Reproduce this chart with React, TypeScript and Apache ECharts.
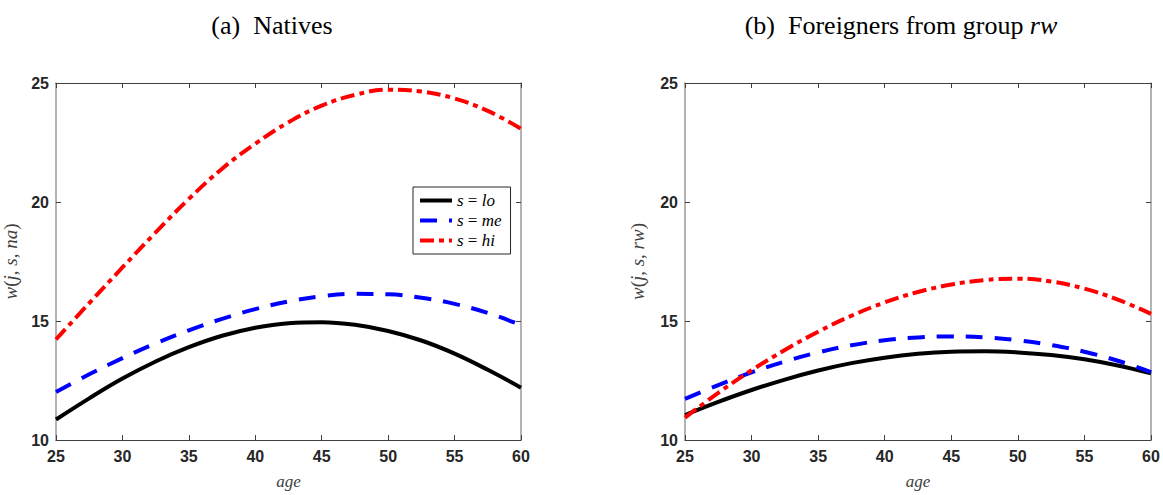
import { useEffect, useRef } from 'react';
import * as echarts from 'echarts';

// ages on the x axis
const ages = [25, 27.5, 30, 32.5, 35, 37.5, 40, 42.5, 45, 47.5, 50, 52.5, 55, 57.5, 60];

// (a) Natives
const nativesLo = [10.86, 11.75, 12.58, 13.3, 13.9, 14.38, 14.72, 14.91, 14.95, 14.84, 14.58, 14.18, 13.63, 12.95, 12.2];
const nativesMe = [12.02, 12.76, 13.44, 14.06, 14.61, 15.09, 15.5, 15.82, 16.04, 16.14, 16.12, 15.98, 15.72, 15.34, 14.83];
const nativesHi = [14.23, 15.75, 17.25, 18.72, 20.13, 21.4, 22.45, 23.35, 24.05, 24.5, 24.72, 24.64, 24.35, 23.83, 23.08];

// (b) Foreigners from group rw
const foreignLo = [11.05, 11.6, 12.1, 12.54, 12.92, 13.23, 13.46, 13.62, 13.71, 13.73, 13.68, 13.57, 13.39, 13.13, 12.8];
const foreignMe = [11.73, 12.31, 12.84, 13.3, 13.68, 13.98, 14.19, 14.31, 14.35, 14.31, 14.19, 13.99, 13.71, 13.33, 12.85];
const foreignHi = [10.94, 11.98, 12.93, 13.78, 14.55, 15.22, 15.78, 16.22, 16.53, 16.72, 16.78, 16.66, 16.36, 15.9, 15.3];

const legendNames = ['lo', 'me', 'hi'];

const pair = (ys: number[]) => ages.map((a, i) => [a, ys[i]]);

export default function App() {
  const chartRef = useRef<HTMLDivElement>(null);

  useEffect(() => {
    if (!chartRef.current) return;
    document.body.style.margin = '0';
    const chart = echarts.init(chartRef.current, null, { renderer: 'svg' });

    const serif = 'Liberation Serif';
    const tickLabel = {
      fontFamily: 'Liberation Sans',
      fontWeight: 'bold' as const,
      fontSize: 16,
      color: '#262626',
    };
    const darkLine = '#404040';
    const grayLine = '#9a9a9a';

    const xAxisFor = (gridIndex: number) => [
      {
        type: 'value',
        gridIndex,
        min: 25,
        max: 60,
        interval: 5,
        name: 'age',
        nameLocation: 'middle',
        nameGap: 33,
        nameTextStyle: { fontFamily: serif, fontStyle: 'italic', fontSize: 17, color: '#404040' },
        axisLine: { lineStyle: { color: darkLine, width: 1 } },
        axisTick: { inside: true, length: 5, lineStyle: { color: darkLine } },
        axisLabel: { ...tickLabel, margin: 8 },
        splitLine: { show: false },
      },
      {
        type: 'value',
        gridIndex,
        position: 'top',
        min: 25,
        max: 60,
        interval: 5,
        axisLine: { lineStyle: { color: darkLine, width: 1 } },
        axisTick: { inside: true, length: 5, lineStyle: { color: darkLine } },
        axisLabel: { show: false },
        splitLine: { show: false },
      },
    ];

    const yAxisFor = (gridIndex: number, label: string, gap: number) => [
      {
        type: 'value',
        gridIndex,
        min: 10,
        max: 25,
        interval: 5,
        name: label,
        nameLocation: 'middle',
        nameGap: gap,
        nameTextStyle: {
          fontFamily: serif,
          fontSize: 19,
          color: '#404040',
          rich: { i: { fontFamily: serif, fontStyle: 'italic', fontSize: 19, color: '#404040' } },
        },
        axisLine: { lineStyle: { color: grayLine, width: 1.5 } },
        axisTick: { inside: true, length: 5, lineStyle: { color: darkLine } },
        axisLabel: { ...tickLabel, margin: 7 },
        splitLine: { show: false },
      },
      {
        type: 'value',
        gridIndex,
        position: 'right',
        min: 10,
        max: 25,
        interval: 5,
        axisLine: { lineStyle: { color: grayLine, width: 1.5 } },
        axisTick: { inside: true, length: 5, lineStyle: { color: darkLine } },
        axisLabel: { show: false },
        splitLine: { show: false },
      },
    ];

    const styles: Record<string, { color: string; type: any }> = {
      lo: { color: '#000000', type: 'solid' },
      me: { color: '#0000ff', type: [17, 12] },
      hi: { color: '#ff0000', type: [14, 5, 5, 5] },
    };

    const makeSeries = (name: string, ys: number[], xIdx: number, yIdx: number) => ({
      name,
      type: 'line',
      xAxisIndex: xIdx,
      yAxisIndex: yIdx,
      data: pair(ys),
      smooth: 0.4,
      symbol: 'none',
      lineStyle: { width: 4, color: styles[name].color, type: styles[name].type },
      itemStyle: { color: styles[name].color },
    });

    const option: any = {
      animation: false,
      backgroundColor: '#ffffff',
      grid: [
        { left: 55, top: 83, width: 466, height: 366 },
        { left: 685, top: 83, width: 466, height: 366 },
      ],
      xAxis: [...xAxisFor(0), ...xAxisFor(1)],
      yAxis: [
        ...yAxisFor(0, '{i|w}({i|j}, {i|s}, {i|na})', 36),
        ...yAxisFor(1, '{i|w}({i|j}, {i|s}, {i|rw})', 38),
      ],
      legend: {
        data: legendNames,
        orient: 'vertical',
        left: 413,
        top: 187,
        padding: [5, 9, 5, 5],
        itemWidth: 32,
        itemHeight: 16,
        itemGap: 3,
        backgroundColor: '#ffffff',
        borderColor: '#262626',
        borderWidth: 1,
        borderRadius: 0,
        itemStyle: { opacity: 0 },
        lineStyle: { width: 4 },
        formatter: (n: string) => `{i|s} = {i|${n}}`,
        textStyle: {
          fontFamily: serif,
          fontSize: 17,
          color: '#000000',
          rich: { i: { fontFamily: serif, fontStyle: 'italic', fontSize: 17, color: '#000000' } },
        },
      },
      graphic: [
        {
          type: 'text',
          x: 272,
          y: 25,
          style: {
            text: '(a)  Natives',
            fontFamily: serif,
            fontSize: 26,
            fill: '#000000',
            textAlign: 'center',
            textVerticalAlign: 'middle',
          },
        },
        {
          type: 'text',
          x: 901,
          y: 25,
          style: {
            text: '(b)  Foreigners from group {i|rw}',
            fontFamily: serif,
            fontSize: 26,
            fill: '#000000',
            textAlign: 'center',
            textVerticalAlign: 'middle',
            rich: { i: { fontFamily: serif, fontStyle: 'italic', fontSize: 26, fill: '#000000' } },
          },
        },
      ],
      series: [
        makeSeries('lo', nativesLo, 0, 0),
        makeSeries('me', nativesMe, 0, 0),
        makeSeries('hi', nativesHi, 0, 0),
        makeSeries('lo', foreignLo, 2, 2),
        makeSeries('me', foreignMe, 2, 2),
        makeSeries('hi', foreignHi, 2, 2),
      ],
    };

    chart.setOption(option);

    return () => {
      chart.dispose();
    };
  }, []);

  return <div ref={chartRef} style={{ width: '1163px', height: '495px' }} />;
}
